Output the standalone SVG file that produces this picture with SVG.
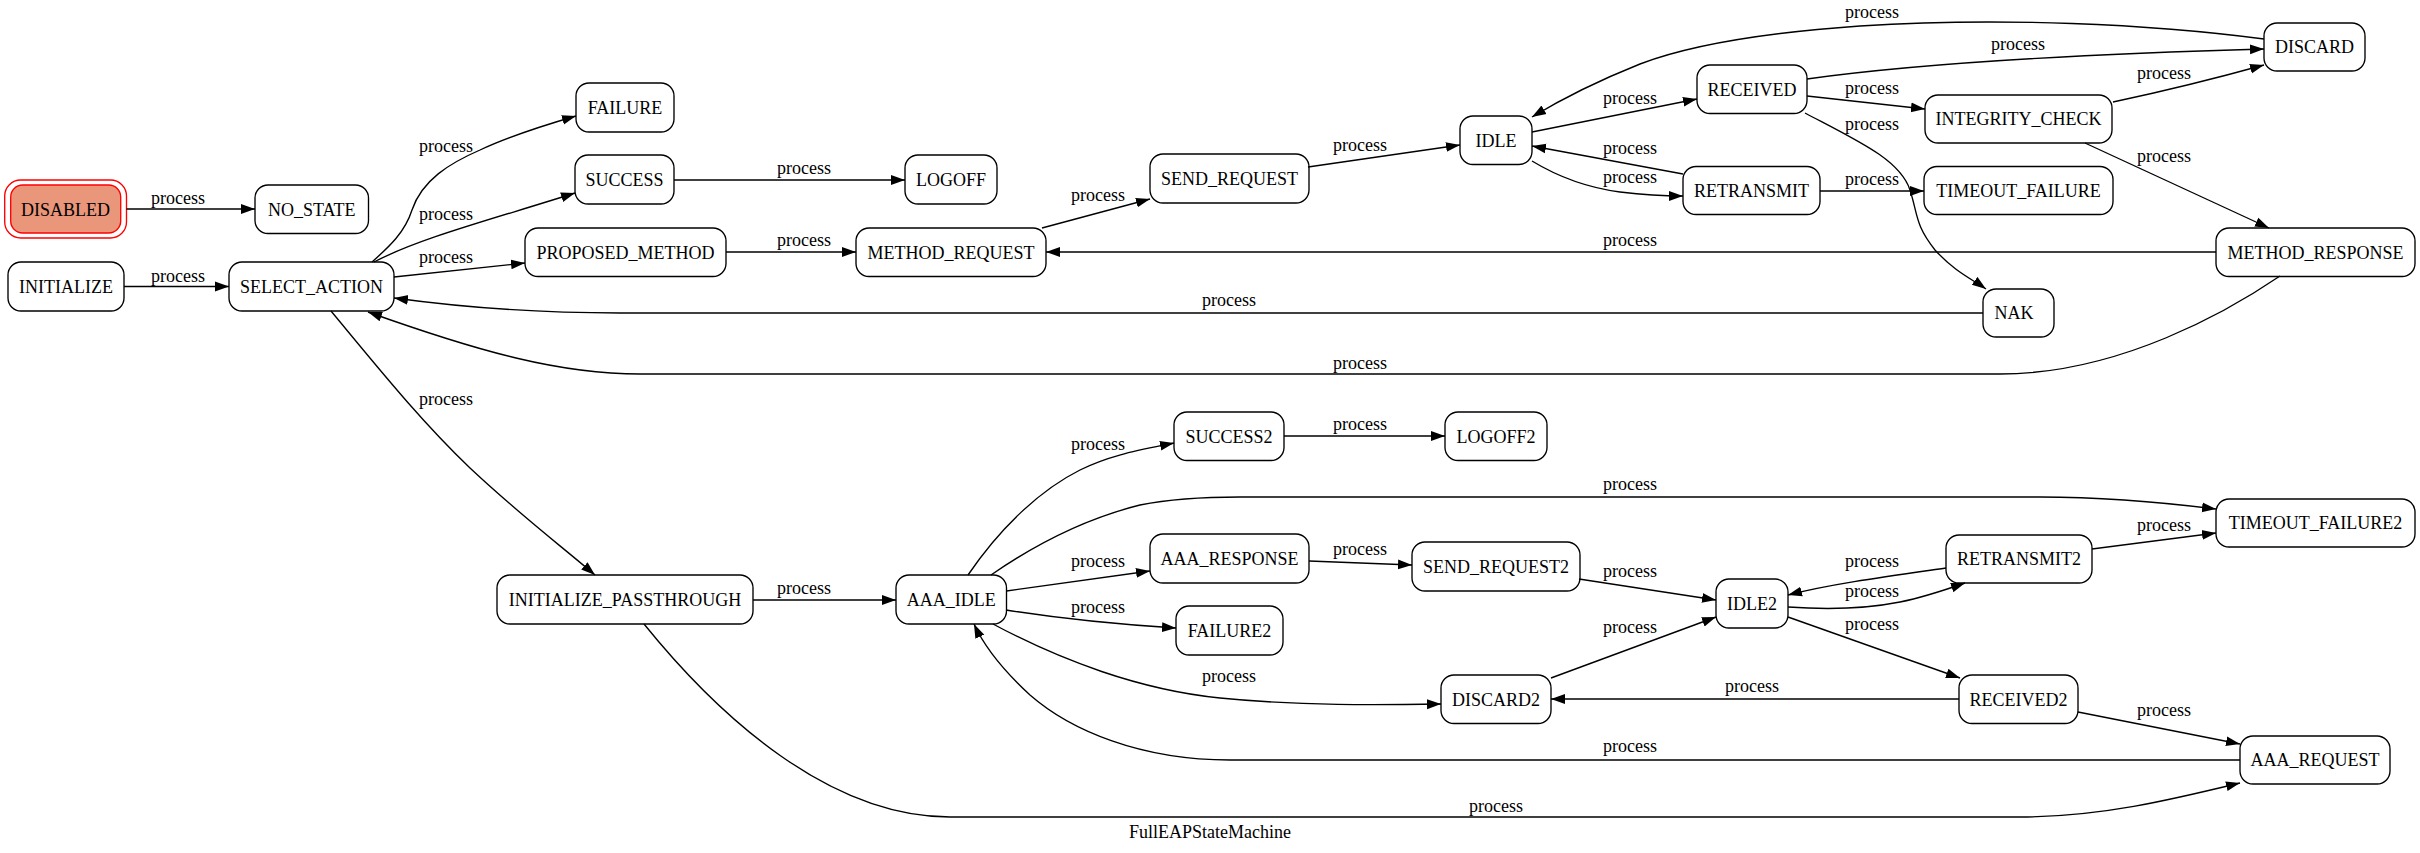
<svg xmlns="http://www.w3.org/2000/svg" width="2420" height="853" viewBox="0 0 2420 853">
<style>
.n rect{fill:#fff;stroke:#000;stroke-width:1.35}
text{font-family:"Liberation Serif",Times,serif;font-size:18px;fill:#000}
.n text{text-anchor:middle}
.e path{fill:none;stroke:#000;stroke-width:1.35;marker-end:url(#ah)}
.l text{text-anchor:middle}
</style>
<defs>
<marker id="ah" markerUnits="userSpaceOnUse" markerWidth="16" markerHeight="12" refX="14" refY="5.5" orient="auto">
<path d="M0,0.6 L14,5.5 L0,10.4 z" fill="#000"/>
</marker>
</defs>
<rect width="2420" height="853" fill="#fff"/>
<g id="nodes">
<g id="DISABLED" class="n"><rect x="4.7" y="180" width="121.8" height="58" rx="16" style="fill:none;stroke:#f00"/><rect x="10.7" y="185" width="110" height="48" rx="12" style="fill:#e9967a;stroke:#f00"/><text x="65.6" y="215.5">DISABLED</text></g>
<g id="NO_STATE" class="n"><rect x="255" y="185" width="113.5" height="48.5" rx="13"/><text x="311.8" y="215.5">NO_STATE</text></g>
<g id="INITIALIZE" class="n"><rect x="8" y="262" width="116" height="49" rx="13"/><text x="66" y="292.7">INITIALIZE</text></g>
<g id="SELECT_ACTION" class="n"><rect x="229" y="262" width="165" height="49" rx="13"/><text x="311.5" y="292.7">SELECT_ACTION</text></g>
<g id="FAILURE" class="n"><rect x="576" y="83" width="98" height="49" rx="13"/><text x="625" y="113.7">FAILURE</text></g>
<g id="SUCCESS" class="n"><rect x="575" y="155" width="99" height="49" rx="13"/><text x="624.5" y="185.7">SUCCESS</text></g>
<g id="PROPOSED_METHOD" class="n"><rect x="525" y="228" width="201" height="48.5" rx="13"/><text x="625.5" y="258.5">PROPOSED_METHOD</text></g>
<g id="LOGOFF" class="n"><rect x="905" y="155" width="92" height="49" rx="13"/><text x="951" y="185.7">LOGOFF</text></g>
<g id="METHOD_REQUEST" class="n"><rect x="856" y="228" width="190" height="48.5" rx="13"/><text x="951" y="258.5">METHOD_REQUEST</text></g>
<g id="SEND_REQUEST" class="n"><rect x="1150" y="154" width="159" height="49" rx="13"/><text x="1229.5" y="184.7">SEND_REQUEST</text></g>
<g id="IDLE" class="n"><rect x="1460" y="116" width="72" height="48.5" rx="13"/><text x="1496" y="146.5">IDLE</text></g>
<g id="RECEIVED" class="n"><rect x="1697" y="65" width="110" height="48.5" rx="13"/><text x="1752" y="95.5">RECEIVED</text></g>
<g id="RETRANSMIT" class="n"><rect x="1683" y="166.5" width="137" height="48" rx="13"/><text x="1751.5" y="196.7">RETRANSMIT</text></g>
<g id="DISCARD" class="n"><rect x="2264" y="23" width="101" height="48" rx="13"/><text x="2314.5" y="53.2">DISCARD</text></g>
<g id="INTEGRITY_CHECK" class="n"><rect x="1925" y="95" width="187" height="48" rx="13"/><text x="2018.5" y="125.2">INTEGRITY_CHECK</text></g>
<g id="TIMEOUT_FAILURE" class="n"><rect x="1924" y="166.5" width="189" height="48" rx="13"/><text x="2018.5" y="196.7">TIMEOUT_FAILURE</text></g>
<g id="METHOD_RESPONSE" class="n"><rect x="2216" y="228" width="199" height="48.5" rx="13"/><text x="2315.5" y="258.5">METHOD_RESPONSE</text></g>
<g id="NAK" class="n"><rect x="1983" y="289" width="71" height="48" rx="13"/><text x="2014" y="319.2">NAK</text></g>
<g id="INITIALIZE_PASSTHROUGH" class="n"><rect x="497" y="575" width="256" height="49" rx="13"/><text x="625" y="605.7">INITIALIZE_PASSTHROUGH</text></g>
<g id="AAA_IDLE" class="n"><rect x="896" y="575" width="110.5" height="49" rx="13"/><text x="951.2" y="605.7">AAA_IDLE</text></g>
<g id="SUCCESS2" class="n"><rect x="1174" y="412" width="110" height="48.5" rx="13"/><text x="1229" y="442.5">SUCCESS2</text></g>
<g id="AAA_RESPONSE" class="n"><rect x="1150" y="534" width="159" height="49" rx="13"/><text x="1229.5" y="564.7">AAA_RESPONSE</text></g>
<g id="FAILURE2" class="n"><rect x="1176" y="606" width="107" height="49" rx="13"/><text x="1229.5" y="636.7">FAILURE2</text></g>
<g id="LOGOFF2" class="n"><rect x="1445" y="412" width="102" height="48.5" rx="13"/><text x="1496" y="442.5">LOGOFF2</text></g>
<g id="SEND_REQUEST2" class="n"><rect x="1412" y="542" width="168" height="49" rx="13"/><text x="1496" y="572.7">SEND_REQUEST2</text></g>
<g id="IDLE2" class="n"><rect x="1716" y="579" width="72" height="49" rx="13"/><text x="1752" y="609.7">IDLE2</text></g>
<g id="DISCARD2" class="n"><rect x="1441" y="675" width="110" height="48.5" rx="13"/><text x="1496" y="705.5">DISCARD2</text></g>
<g id="TIMEOUT_FAILURE2" class="n"><rect x="2216" y="499" width="199" height="48" rx="13"/><text x="2315.5" y="529.2">TIMEOUT_FAILURE2</text></g>
<g id="RETRANSMIT2" class="n"><rect x="1946" y="535" width="146" height="48" rx="13"/><text x="2019" y="565.2">RETRANSMIT2</text></g>
<g id="RECEIVED2" class="n"><rect x="1959" y="675" width="119" height="48.5" rx="13"/><text x="2018.5" y="705.5">RECEIVED2</text></g>
<g id="AAA_REQUEST" class="n"><rect x="2240" y="736" width="150" height="48" rx="13"/><text x="2315" y="766.2">AAA_REQUEST</text></g>
</g>
<g id="edges" class="e">
<path d="M126.5,209 L255,209"/>
<path d="M124,286.5 L229,286.5"/>
<path d="M372,262 C390,246 405,232 412,210 C422,180 450,163 480,150 C510,136 545,125 576,116"/>
<path d="M374,262 C420,238 490,220 575,193"/>
<path d="M394,277 L525,263"/>
<path d="M674,180 L905,180"/>
<path d="M726,252 L856,252"/>
<path d="M1042,228 L1150,199"/>
<path d="M1308,167 L1460,145"/>
<path d="M1532,132 L1697,99"/>
<path d="M1683,174 L1532,146"/>
<path d="M1532,161 C1560,178 1590,188 1620,192 C1645,195 1665,196 1683,196"/>
<path d="M2264,39 C2150,24 2000,17 1860,26 C1760,33 1690,45 1640,64 C1595,82 1560,100 1532,117"/>
<path d="M1807,79 C1900,66 2050,55 2264,49"/>
<path d="M1807,96 L1925,109"/>
<path d="M1805,113 C1860,142 1900,160 1910,190 C1918,215 1915,225 1935,250 C1955,272 1972,279 1986,289"/>
<path d="M1820,191 L1924,191"/>
<path d="M2113,102 C2160,92 2210,80 2264,65"/>
<path d="M2085,143 L2269,228"/>
<path d="M2216,252 L1046,252"/>
<path d="M1983,313 L620,313 C540,313 460,307 394,298"/>
<path d="M2280,276 C2230,310 2120,374 2000,374 L640,374 C560,374 480,352 368,312"/>
<path d="M331,311 C380,370 420,420 470,468 C520,515 560,545 595,575"/>
<path d="M753,600 L896,600"/>
<path d="M968,575 C1000,528 1040,490 1080,470 C1110,455 1140,450 1174,443"/>
<path d="M1284,436 L1445,436"/>
<path d="M991,575 C1030,548 1080,520 1140,505 C1170,499 1200,497 1240,497 L2040,497 C2100,497 2160,502 2216,509"/>
<path d="M1006.5,591 L1150,571"/>
<path d="M1006,610 C1050,617 1110,624 1176,628"/>
<path d="M1309,561 L1412,565"/>
<path d="M1579,579 L1716,600"/>
<path d="M1946,568 C1890,576 1830,584 1788,595"/>
<path d="M1788,607 C1830,610 1870,608 1900,602 C1925,597 1945,590 1965,583"/>
<path d="M2092,549 L2216,533"/>
<path d="M1788,617 L1960,678"/>
<path d="M993,624 C1060,660 1140,690 1220,698 C1300,706 1380,705 1441,704"/>
<path d="M1551,678 L1716,617"/>
<path d="M1959,699 L1551,699"/>
<path d="M2078,712 L2240,744"/>
<path d="M2240,760 L1230,760 C1140,760 1070,730 1030,695 C1005,672 985,648 974,624"/>
<path d="M644,624 C720,718 830,817 950,817 L2020,817 C2100,817 2170,800 2240,783"/>
</g>
<g id="labels" class="l">
<text x="178" y="204">process</text>
<text x="178" y="282">process</text>
<text x="446" y="152">process</text>
<text x="446" y="220">process</text>
<text x="446" y="263">process</text>
<text x="804" y="174">process</text>
<text x="804" y="246">process</text>
<text x="1098" y="201">process</text>
<text x="1360" y="151">process</text>
<text x="1630" y="104">process</text>
<text x="1630" y="154">process</text>
<text x="1630" y="183">process</text>
<text x="1872" y="18">process</text>
<text x="2018" y="50">process</text>
<text x="1872" y="94">process</text>
<text x="1872" y="130">process</text>
<text x="1872" y="185">process</text>
<text x="2164" y="79">process</text>
<text x="2164" y="162">process</text>
<text x="1630" y="246">process</text>
<text x="1229" y="306">process</text>
<text x="1360" y="369">process</text>
<text x="446" y="405">process</text>
<text x="804" y="594">process</text>
<text x="1098" y="450">process</text>
<text x="1360" y="430">process</text>
<text x="1630" y="490">process</text>
<text x="1098" y="567">process</text>
<text x="1098" y="613">process</text>
<text x="1360" y="555">process</text>
<text x="1630" y="577">process</text>
<text x="1872" y="567">process</text>
<text x="1872" y="597">process</text>
<text x="2164" y="531">process</text>
<text x="1872" y="630">process</text>
<text x="1229" y="682">process</text>
<text x="1630" y="633">process</text>
<text x="1752" y="692">process</text>
<text x="2164" y="716">process</text>
<text x="1630" y="752">process</text>
<text x="1496" y="812">process</text>
</g>
<text id="title" x="1210" y="838" text-anchor="middle">FullEAPStateMachine</text>
</svg>
